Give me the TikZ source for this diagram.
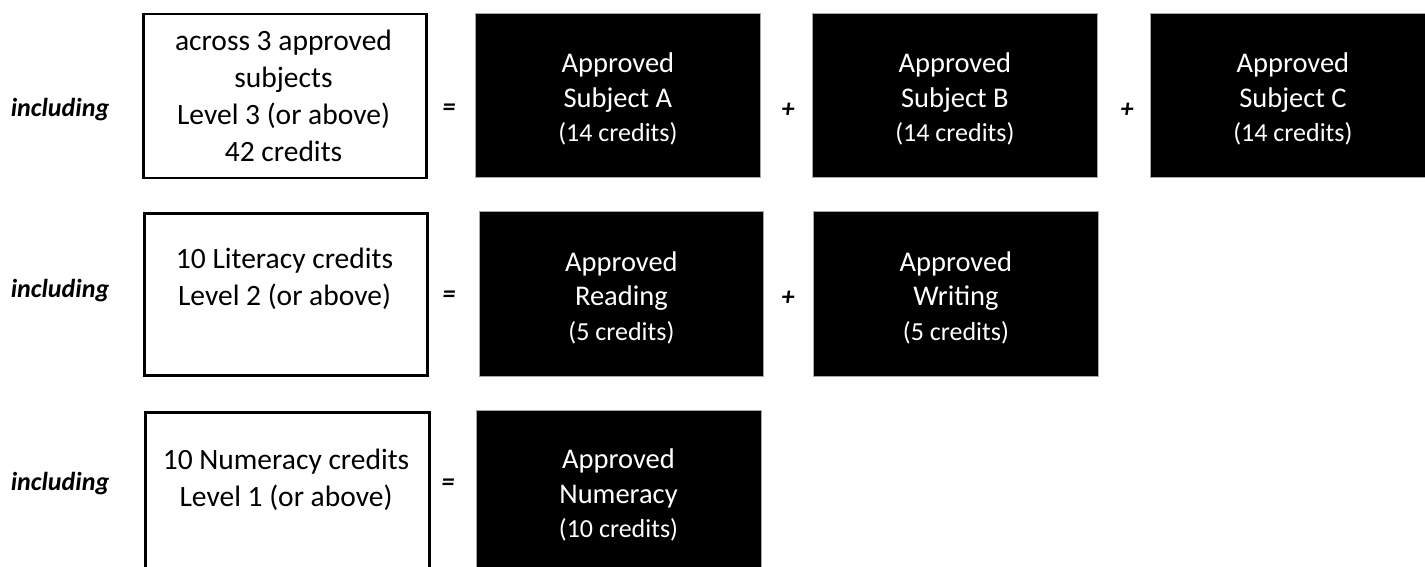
\documentclass[tikz,border=0pt]{standalone}
\usepackage{fontspec}
\setmainfont{Carlito}
\begin{document}
\begin{tikzpicture}[x=1pt,y=-1pt,
  wbox/.style={draw=black, line width=2.5pt, inner sep=0pt, anchor=north west},
  bbox/.style={fill=black, draw=black!35, line width=0.8pt, inner sep=0pt, anchor=north west},
  btxt/.style={text=white, inner sep=0pt, align=center, font=\fontsize{28.5}{34.5}\selectfont},
  op/.style={font=\bfseries\itshape\fontsize{26}{30}\selectfont, inner sep=0pt},
  incl/.style={font=\bfseries\itshape\fontsize{26}{30}\selectfont, inner sep=0pt},
  wtxt/.style={align=center, font=\fontsize{29.5}{37}\selectfont, inner sep=0pt}]
\clip (0,0) rectangle (1425,567);
% row 1
\node[incl] (inc1) at (60,110) {including};
\node[wbox, minimum width=283pt, minimum height=164pt] (w1) at (142,13) {};
\node[wtxt] (w1t) at (283.5,96) {across 3 approved\\subjects\\Level 3 (or above)\\42 credits};
\node[op] (eq1) at (449,110) {=};
\node[bbox, minimum width=285pt, minimum height=164pt] (sa) at (475,13) {};
\node[btxt] (sat) at ([yshift=-4pt]sa.center) {Approved\\Subject A\\{\fontsize{26}{34.5}\selectfont(14 credits)}};
\node[op] (pl1) at (788,110) {+};
\node[bbox, minimum width=285pt, minimum height=164pt] (sb) at (812,13) {};
\node[btxt] (sbt) at ([yshift=-4pt]sb.center) {Approved\\Subject B\\{\fontsize{26}{34.5}\selectfont(14 credits)}};
\node[op] (pl2) at (1127,110) {+};
\node[bbox, minimum width=285pt, minimum height=164pt] (sc) at (1150,13) {};
\node[btxt] (sct) at ([yshift=-4pt]sc.center) {Approved\\Subject C\\{\fontsize{26}{34.5}\selectfont(14 credits)}};
% row 2
\node[incl] (inc2) at (60,291) {including};
\node[wbox, minimum width=283pt, minimum height=162pt] (w2) at (143,212) {};
\node[wtxt] (w2t) at (284.5,279) {10 Literacy credits\\Level 2 (or above)};
\node[op] (eq2) at (449,297) {=};
\node[bbox, minimum width=284pt, minimum height=165pt] (rd) at (479,211) {};
\node[btxt] (rdt) at ([yshift=-4pt]rd.center) {Approved\\Reading\\{\fontsize{26}{34.5}\selectfont(5 credits)}};
\node[op] (pl3) at (788,298) {+};
\node[bbox, minimum width=285pt, minimum height=165pt] (wr) at (813,211) {};
\node[btxt] (wrt) at ([yshift=-4pt]wr.center) {Approved\\Writing\\{\fontsize{26}{34.5}\selectfont(5 credits)}};
% row 3
\node[incl] (inc3) at (60,484) {including};
\node[wbox, minimum width=284pt, minimum height=165pt] (w3) at (144,411) {};
\node[wtxt] (w3t) at (286,480) {10 Numeracy credits\\Level 1 (or above)};
\node[op] (eq3) at (448,485) {=};
\node[bbox, minimum width=285pt, minimum height=168pt] (nu) at (476,410) {};
\node[btxt] (nut) at (618.5,495) {Approved\\Numeracy\\{\fontsize{26}{34.5}\selectfont(10 credits)}};
\end{tikzpicture}
\end{document}
